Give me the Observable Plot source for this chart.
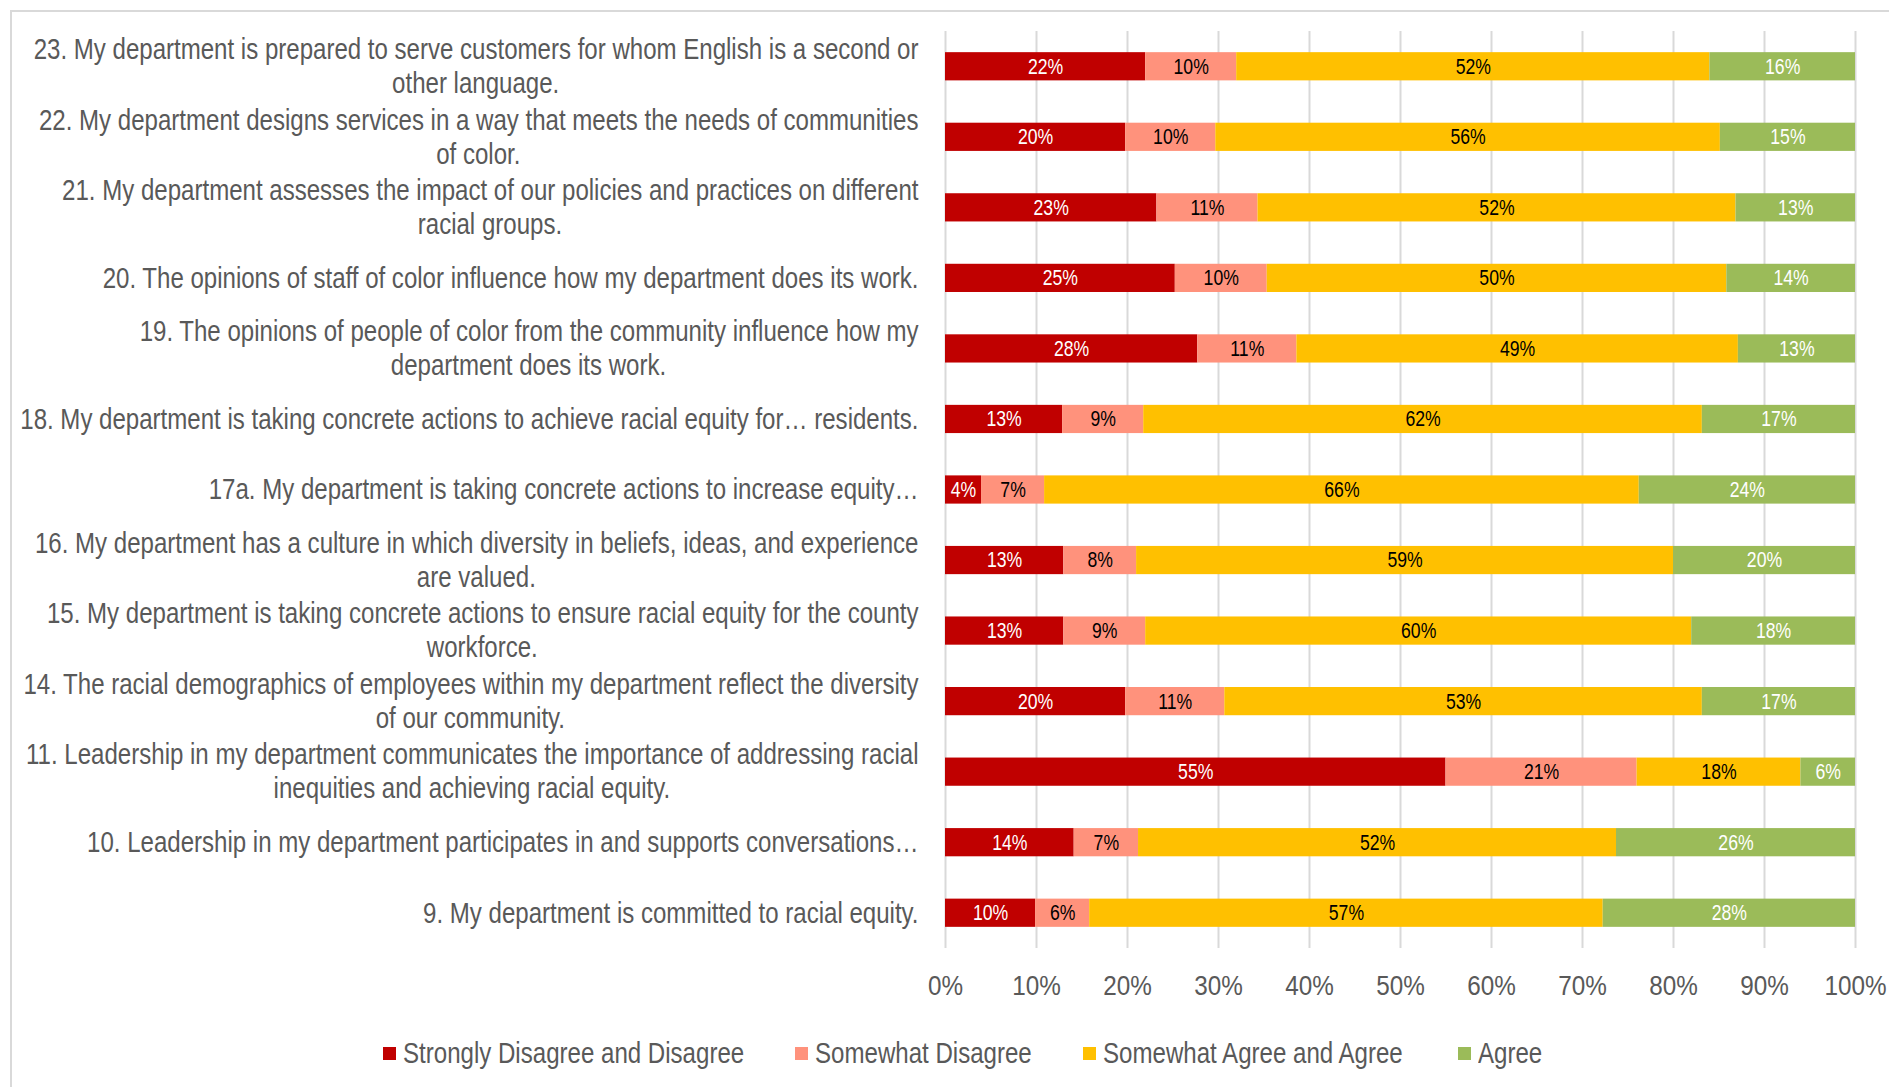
<!DOCTYPE html>
<html>
<head>
<meta charset="utf-8">
<script src="https://cdn.jsdelivr.net/npm/d3@7"></script>
<script src="https://cdn.jsdelivr.net/npm/@observablehq/plot@0.6"></script>
<style>
  html, body { margin: 0; padding: 0; background: #fff; }
  #wrap { position: relative; width: 1889px; height: 1087px; overflow: hidden; }
  #frame { position: absolute; left: 10px; top: 10px; right: -5px; bottom: -5px;
           border-left: 2px solid #d9d9d9; border-top: 2px solid #d9d9d9; }
  #chart { position: absolute; left: 0; top: 0; }
  #legend { position: absolute; left: 0; top: 1038px; width: 1889px; height: 30px;
            font-family: "Liberation Sans", Arial, sans-serif;
            font-size: 29px; color: #595959; }
  .item { position: absolute; top: 0; display: flex; align-items: center; height: 30px; white-space: nowrap; }
  .sw { width: 13px; height: 13px; margin-right: 7px; flex: none; }
  .lt { display: inline-block; transform: scaleX(0.83); transform-origin: left center; }
</style>
</head>
<body>
<div id="wrap">
  <div id="frame"></div>
  <div id="chart"></div>
  <div id="legend"></div>
</div>
<script>
// ---- Data ----
const questionLines = [
  ["23. My department is prepared to serve customers for whom English is a second or", "other language."],
  ["22. My department designs services in a way that meets the needs of communities", "of color."],
  ["21. My department assesses the impact of our policies and practices on different", "racial groups."],
  ["20. The opinions of staff of color influence how my department does its work."],
  ["19. The opinions of people of color from the community influence how my", "department does its work."],
  ["18. My department is taking concrete actions to achieve racial equity for… residents."],
  ["17a. My department is taking concrete actions to increase equity…"],
  ["16. My department has a culture in which diversity in beliefs, ideas, and experience", "are valued."],
  ["15. My department is taking concrete actions to ensure racial equity for the county", "workforce."],
  ["14. The racial demographics of employees within my department reflect the diversity", "of our community."],
  ["11. Leadership in my department communicates the importance of addressing racial", "inequities and achieving racial equity."],
  ["10. Leadership in my department participates in and supports conversations…"],
  ["9. My department is committed to racial equity."]
];
const seriesNames = ["Strongly Disagree and Disagree", "Somewhat Disagree", "Somewhat Agree and Agree", "Agree"];
const seriesColors = ["#C00000", "#FF927C", "#FFC000", "#9BBB59"];
const stronglyDisagree = [22, 20, 23, 25, 28, 13, 4, 13, 13, 20, 55, 14, 10];
const somewhatDisagree = [10, 10, 11, 10, 11, 9, 7, 8, 9, 11, 21, 7, 6];
const somewhatAgree    = [52, 56, 52, 50, 49, 62, 66, 59, 60, 53, 18, 52, 57];
const agree            = [16, 15, 13, 14, 13, 17, 24, 20, 18, 17, 6, 26, 28];
const xTicks = [0, 0.1, 0.2, 0.3, 0.4, 0.5, 0.6, 0.7, 0.8, 0.9, 1];

// ---- Build tables ----
const FONT = '"Liberation Sans", Arial, sans-serif';
const LABEL_SQUEEZE = 0.83;
const VALUE_SQUEEZE = 0.82;
const TICK_SQUEEZE = 0.9;
const keys = questionLines.map(l => l.join(" "));
const seriesValues = [stronglyDisagree, somewhatDisagree, somewhatAgree, agree];
const rows = [];
keys.forEach((k, i) => {
  seriesNames.forEach((s, j) => rows.push({q: k, series: s, value: seriesValues[j][i]}));
});
const whiteText = new Set([seriesNames[0], seriesNames[3]]);

const labelRows = questionLines.map((l, i) => ({key: keys[i], line1: l[0], line2: l[1] || null}));
const single = labelRows.filter(d => !d.line2);
const double = labelRows.filter(d => d.line2);

const LABEL_SIZE = 29;
const VALUE_SIZE = 21.5;
const TICK_SIZE = 27;
const ctx = document.createElement("canvas").getContext("2d");
ctx.font = `${LABEL_SIZE}px ${FONT}`;
const labelGap = 27;

const line2Marks = double.map(d => {
  const w = ctx.measureText(d.line1).width * LABEL_SQUEEZE;
  return Plot.text([d], {y: "key", text: "line2", frameAnchor: "left", dx: -labelGap - w / 2, dy: 17,
    textAnchor: "middle", fontSize: LABEL_SIZE, fill: "#595959", fontFamily: FONT});
});

const chart = Plot.plot({
  width: 1889,
  height: 1010,
  marginLeft: 945,
  marginRight: 34,
  marginTop: 31,
  marginBottom: 62,
  style: {fontFamily: FONT, background: "transparent", overflow: "visible"},
  x: {domain: [0, 1], axis: null},
  y: {domain: keys, paddingInner: 0.6, paddingOuter: 0.3, round: false, axis: null},
  color: {domain: seriesNames, range: seriesColors},
  marks: [
    Plot.ruleX(xTicks, {stroke: "#d9d9d9", strokeWidth: 2}),
    Plot.barX(rows, Plot.stackX({x: "value", y: "q", fill: "series", offset: "normalize"})),
    Plot.text(rows, Plot.stackX({x: "value", y: "q", offset: "normalize",
      text: d => whiteText.has(d.series) ? d.value + "%" : "", fill: "white", fontSize: VALUE_SIZE, fontFamily: FONT})),
    Plot.text(rows, Plot.stackX({x: "value", y: "q", offset: "normalize",
      text: d => whiteText.has(d.series) ? "" : d.value + "%", fill: "black", fontSize: VALUE_SIZE, fontFamily: FONT})),
    Plot.axisX(xTicks, {anchor: "bottom", tickSize: 0, tickPadding: 27, tickFormat: d3.format(".0%"),
      fontSize: TICK_SIZE, color: "#595959", fontFamily: FONT, label: null}),
    Plot.text(single, {y: "key", text: "line1", frameAnchor: "left", dx: -labelGap, textAnchor: "end",
      fontSize: LABEL_SIZE, fill: "#595959", fontFamily: FONT}),
    Plot.text(double, {y: "key", text: "line1", frameAnchor: "left", dx: -labelGap, dy: -17, textAnchor: "end",
      fontSize: LABEL_SIZE, fill: "#595959", fontFamily: FONT}),
    ...line2Marks
  ]
});

// Condense all text horizontally (narrow typeface look) about each text's anchor point
chart.querySelectorAll("text").forEach(t => {
  const fs = parseFloat(t.getAttribute("font-size") || t.parentNode.getAttribute("font-size") || "0");
  const s = fs === LABEL_SIZE ? LABEL_SQUEEZE : fs === TICK_SIZE ? TICK_SQUEEZE : VALUE_SQUEEZE;
  const tr = t.getAttribute("transform");
  if (tr) {
    t.setAttribute("transform", tr + ` scale(${s},1)`);
  } else {
    const x = +(t.getAttribute("x") || 0), y = +(t.getAttribute("y") || 0);
    t.setAttribute("x", 0); t.setAttribute("y", 0);
    t.setAttribute("transform", `translate(${x},${y}) scale(${s},1)`);
  }
});
document.getElementById("chart").appendChild(chart);

// ---- Legend ----
const legendLefts = [383, 795, 1083, 1458];
const legend = document.getElementById("legend");
seriesNames.forEach((s, i) => {
  const item = document.createElement("div");
  item.className = "item";
  item.style.left = legendLefts[i] + "px";
  const sw = document.createElement("span");
  sw.className = "sw";
  sw.style.background = seriesColors[i];
  const t = document.createElement("span");
  t.className = "lt";
  t.textContent = s;
  item.appendChild(sw);
  item.appendChild(t);
  legend.appendChild(item);
});
</script>
</body>
</html>
